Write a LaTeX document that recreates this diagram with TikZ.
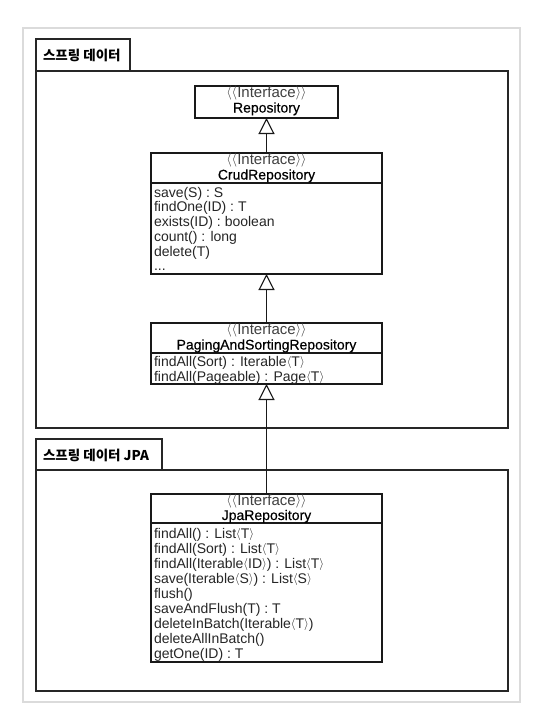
\documentclass[tikz,border=0pt]{standalone}
\usepackage{fontspec}
\setmainfont{Liberation Sans}
\newfontfamily\namefont[FakeBold=0.4]{Liberation Sans}
\newfontfamily\krfont{Noto Sans CJK KR}
\usetikzlibrary{arrows.meta}
\newcommand\bk[1]{\smash{\raisebox{0.6pt}{\fontsize{12}{12}\selectfont$#1$}}}
\newcommand\bkb[1]{\smash{\raisebox{0.6pt}{\fontsize{13.5}{13.5}\selectfont$#1$}}}
\newcommand\myla{\bkb{\langle}\kern-0.3pt\bkb{\langle}}
\newcommand\myra{\bkb{\rangle}\kern-0.3pt\bkb{\rangle}}
\newcommand\sla{\bk{\langle}}
\newcommand\sra{\bk{\rangle}}
\begin{document}
\begin{tikzpicture}[x=1pt,y=-1pt,
  every node/.style={inner sep=0pt, outer sep=0pt},
  outerframe/.style={draw=black!14, line width=1.5pt, anchor=north west},
  pkgbox/.style={draw=black!85, line width=1.3pt, anchor=north west},
  clsbox/.style={draw=black!90, line width=1.1pt, fill=white, anchor=north west},
  sepline/.style={draw=black!90, line width=1.1pt},
  stereo/.style={font=\fontsize{15}{15}\selectfont, text=black!75, anchor=base},
  cname/.style={font=\namefont\fontsize{14}{15}\selectfont, text=black, anchor=base},
  meth/.style={font=\fontsize{14}{15}\selectfont, text=black!85, anchor=base west},
  tabtext/.style={font=\krfont\bfseries\fontsize{13.5}{15}\selectfont, anchor=west},
  inh/.style={draw=black!90, line width=1.1pt, -{Triangle[open, length=16pt, width=16pt, fill=white]}}]
\useasboundingbox (0,0) rectangle (543,720);
\fill[white] (0,0) rectangle (543,720);

\node[outerframe, minimum width=497, minimum height=674] (outer) at (23,28) {};

% package 1
\node[pkgbox, minimum width=94, minimum height=32] (tab1) at (36,39) {};
\node[pkgbox, minimum width=472, minimum height=357] (pkg1) at (36,71) {};
\node[tabtext] (tab1t) at (43,55.5) {스프링 데이터};

% package 2
\node[pkgbox, minimum width=126, minimum height=31] (tab2) at (36,439) {};
\node[pkgbox, minimum width=472, minimum height=221] (pkg2) at (36,470) {};
\node[tabtext] (tab2t) at (43,455) {스프링 데이터 JPA};

% Repository
\node[clsbox, minimum width=143, minimum height=32] (repo) at (195,86) {};
\node[stereo] (repos) at (266.5,97.5) {\myla Interface\myra};
\node[cname] (repon) at (266.5,112.5) {Repository};

% CrudRepository
\node[clsbox, minimum width=231, minimum height=121] (crud) at (151,153) {};
\coordinate (crudsl) at (151,183);
\coordinate (crudsr) at (382,183);
\draw[sepline] (crudsl) -- (crudsr);
\node[stereo] (cruds) at (266.5,164.5) {\myla Interface\myra};
\node[cname] (crudn) at (266.5,179.5) {CrudRepository};
\node[meth] (c1) at (154,197) {save(S) : S};
\node[meth] (c2) at (154,211.8) {findOne(ID) : T};
\node[meth] (c3) at (154,226.6) {exists(ID) : boolean};
\node[meth] (c4) at (154,241.4) {count() : long};
\node[meth] (c5) at (154,256.2) {delete(T)};
\node[meth] (c6) at (154,270) {...};

% PagingAndSortingRepository
\node[clsbox, minimum width=231, minimum height=61] (paging) at (151,323) {};
\coordinate (pagsl) at (151,353);
\coordinate (pagsr) at (382,353);
\draw[sepline] (pagsl) -- (pagsr);
\node[stereo] (pags) at (266.5,334.5) {\myla Interface\myra};
\node[cname] (pagn) at (266.5,349.5) {PagingAndSortingRepository};
\node[meth] (p1) at (154,366.5) {findAll(Sort) : Iterable\sla T\sra};
\node[meth] (p2) at (154,381) {findAll(Pageable) : Page\sla T\sra};

% JpaRepository
\node[clsbox, minimum width=231, minimum height=168] (jpa) at (151,494) {};
\coordinate (jpasl) at (151,523);
\coordinate (jpasr) at (382,523);
\draw[sepline] (jpasl) -- (jpasr);
\node[stereo] (jpas) at (266.5,505) {\myla Interface\myra};
\node[cname] (jpan) at (266.5,520) {JpaRepository};
\node[meth] (j1) at (154,538) {findAll() : List\sla T\sra};
\node[meth] (j2) at (154,553) {findAll(Sort) : List\sla T\sra};
\node[meth] (j3) at (154,568) {findAll(Iterable\sla ID\sra) : List\sla T\sra};
\node[meth] (j4) at (154,583) {save(Iterable\sla S\sra) : List\sla S\sra};
\node[meth] (j5) at (154,598) {flush()};
\node[meth] (j6) at (154,613) {saveAndFlush(T) : T};
\node[meth] (j7) at (154,628) {deleteInBatch(Iterable\sla T\sra)};
\node[meth] (j8) at (154,643) {deleteAllInBatch()};
\node[meth] (j9) at (154,658) {getOne(ID) : T};

% inheritance
\draw[inh] (crud.north) -- (repo.south);
\draw[inh] (paging.north) -- (crud.south);
\draw[inh] (jpa.north) -- (paging.south);
\end{tikzpicture}
\end{document}
